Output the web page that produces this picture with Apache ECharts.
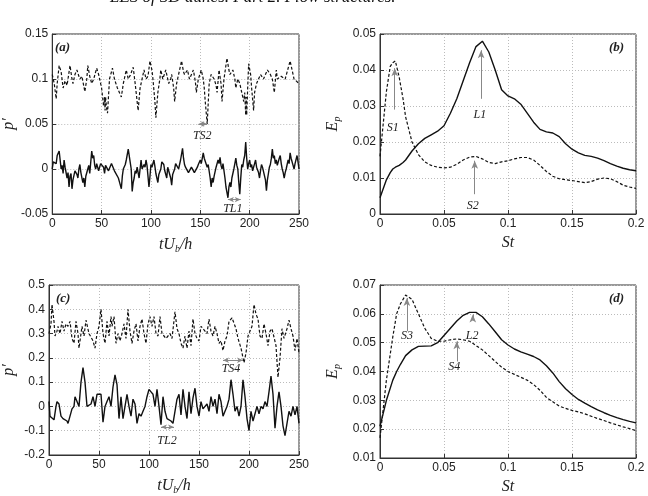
<!DOCTYPE html>
<html>
<head>
<meta charset="utf-8">
<script src="https://cdn.jsdelivr.net/npm/echarts@6/dist/echarts.min.js"></script>
<style>
  html, body { margin: 0; padding: 0; background: #fff; }
  #chart { width: 648px; height: 496px; }
</style>
</head>
<body>
<div id="chart"></div>
<script>
// (a) pressure signals, [tU_b/h, p']
const aDashed = [[0,0.105],[2,0.095],[4,0.078],[5,0.095],[7,0.115],[9,0.108],[11,0.09],[13,0.098],[15,0.093],[18,0.115],[20,0.1],[21,0.095],[23,0.105],[25,0.11],[27,0.103],[28,0.1],[30,0.103],[32,0.092],[33,0.086],[35,0.1],[36,0.115],[38,0.103],[40,0.095],[42,0.1],[45,0.112],[47,0.105],[48,0.1],[50,0.09],[51,0.08],[52,0.07],[53,0.08],[53.5,0.065],[54,0.08],[55,0.068],[56,0.062],[58,0.1],[61,0.112],[63,0.1],[66,0.09],[68,0.085],[70,0.08],[72,0.095],[75,0.11],[77,0.1],[79,0.104],[82,0.113],[84,0.095],[85,0.085],[87,0.065],[89,0.09],[91,0.1],[93,0.11],[95,0.1],[97,0.103],[99,0.12],[101,0.11],[102,0.1],[104,0.075],[105,0.057],[107,0.085],[109,0.1],[110,0.11],[112,0.1],[115,0.11],[117,0.1],[118,0.095],[120,0.1],[121,0.105],[123,0.09],[124,0.075],[126,0.095],[128,0.105],[131,0.12],[133,0.108],[134,0.105],[137,0.11],[139,0.1],[140,0.1],[143,0.11],[145,0.097],[146,0.085],[148,0.1],[151,0.11],[153,0.1],[154,0.09],[155,0.075],[157,0.05],[159,0.095],[161,0.105],[164,0.1],[166,0.093],[167,0.085],[169,0.11],[171,0.095],[172,0.075],[174,0.1],[177,0.123],[179,0.11],[180,0.105],[183,0.11],[185,0.1],[186,0.09],[188,0.1],[190,0.095],[192,0.085],[194,0.075],[195,0.085],[196,0.06],[196.5,0.08],[197,0.06],[198,0.09],[199,0.117],[201,0.105],[202,0.09],[204,0.065],[205,0.085],[207,0.095],[209,0.1],[211,0.105],[214,0.1],[216,0.105],[218,0.11],[221,0.105],[223,0.1],[224,0.1],[225,0.085],[227,0.11],[228,0.1],[230,0.1],[232,0.103],[234,0.105],[236,0.1],[238,0.1],[241,0.12],[243,0.11],[245,0.1],[247,0.1],[250,0.095]];
const aSolid = [[0,0],[1,0.008],[3,0.01],[4,0.006],[5,0.015],[7,0.02],[8,0.01],[9,0],[10,0.004],[11,-0.005],[12,0.01],[13,0.002],[15,-0.01],[16,-0.004],[17,-0.02],[18,-0.008],[19,-0.005],[20,-0.022],[21,-0.012],[22,-0.01],[23,-0.002],[24,0],[25,-0.006],[26,-0.01],[27,0],[28,0.005],[29,-0.004],[31,-0.015],[32,-0.01],[33,-0.02],[34,-0.008],[36,0],[37,0.004],[38,-0.005],[40,0.02],[41,0.012],[42,0.015],[43,0.004],[44,0],[45,0.006],[46,0.005],[47,-0.002],[48,0],[49,0.006],[50,0.005],[52,0.002],[53,-0.005],[54,0.004],[56,0.005],[57,-0.002],[59,0],[60,0.006],[62,0.005],[63,-0.002],[65,0],[67,-0.01],[68,-0.014],[70,-0.022],[71,-0.008],[72,0],[74,0.005],[75,0.01],[77,0.022],[79,0.02],[80,0],[81,-0.025],[82,-0.015],[83,-0.01],[84,-0.002],[85,-0.005],[86,0.002],[88,-0.01],[90,0.01],[91,0],[93,0.005],[94,0.002],[95,0.01],[96,0.004],[98,-0.02],[99,-0.008],[100,0.005],[101,0.002],[103,0.01],[104,0.003],[105,-0.005],[107,-0.015],[108,-0.006],[110,0],[111,0.008],[113,0.005],[114,-0.002],[116,-0.01],[117,0.002],[119,0],[120,-0.01],[121,-0.018],[122,-0.006],[124,0],[125,0.006],[127,0.005],[128,0],[130,0.01],[132,0.023],[133,0.012],[134,0.005],[135,0.002],[137,0],[138,-0.004],[140,-0.005],[141,0.002],[143,0],[144,-0.004],[146,-0.005],[147,0.002],[148,0.005],[150,0.01],[151,0.006],[153,0.018],[154,0.012],[156,0.01],[157,0.002],[158,0.005],[160,-0.01],[161,-0.02],[162,-0.01],[163,-0.015],[164,-0.008],[165,-0.01],[166,0.002],[168,0.01],[169,0.006],[170,0.013],[171,0.004],[172,0],[173,0.006],[174,0.005],[175,-0.01],[176,-0.02],[177,-0.026],[178,-0.032],[179,-0.02],[180,-0.015],[181,-0.02],[182,-0.01],[183,-0.012],[184,0],[185,0.006],[186,0.012],[187,0.004],[188,0],[189,-0.015],[190,-0.028],[191,-0.01],[192,0.005],[193,0.002],[194,0.01],[195,0.015],[196,0.03],[197,0.012],[198,0],[199,0.006],[200,0.01],[201,0.002],[202,0.005],[203,-0.002],[204,0],[205,0.006],[206,0.01],[207,0.002],[208,0],[209,-0.004],[210,-0.01],[211,-0.002],[212,0.005],[213,0.002],[215,0],[216,-0.012],[217,-0.024],[218,-0.012],[219,-0.005],[220,0.002],[221,0.005],[222,0.012],[223,0.022],[224,0.012],[225,0.015],[226,0.006],[227,0.01],[228,0.004],[229,0.005],[230,0.012],[231,0.015],[232,0.006],[233,0],[234,-0.004],[235,-0.01],[236,-0.004],[237,0],[238,0.005],[239,0.01],[240,0.006],[241,0.018],[242,0.012],[243,0.01],[244,0.004],[245,0],[246,0.006],[248,0.015],[249,0.008],[250,0]];

// (c) pressure signals, [tU_b/h, p']
const cDashed = [[0,0.3],[2,0.34],[3,0.42],[5,0.35],[6,0.29],[8,0.31],[9,0.33],[11,0.3],[13,0.35],[15,0.31],[17,0.34],[19,0.33],[21,0.35],[23,0.28],[25,0.26],[27,0.35],[29,0.3],[30,0.24],[32,0.3],[33,0.33],[35,0.29],[37,0.355],[40,0.3],[42,0.3],[44,0.27],[46,0.24],[48,0.3],[50,0.33],[52,0.4],[54,0.3],[56,0.26],[58,0.35],[60,0.29],[62,0.37],[63,0.33],[65,0.37],[67,0.26],[69,0.3],[71,0.27],[73,0.3],[75,0.34],[77,0.28],[79,0.4],[81,0.31],[83,0.26],[85,0.31],[87,0.34],[89,0.27],[91,0.33],[93,0.36],[95,0.3],[97,0.26],[99,0.34],[101,0.37],[103,0.33],[105,0.37],[107,0.3],[109,0.29],[111,0.37],[113,0.3],[115,0.29],[117,0.28],[119,0.29],[121,0.3],[123,0.28],[126,0.39],[128,0.32],[130,0.3],[132,0.26],[134,0.24],[136,0.29],[138,0.24],[140,0.31],[142,0.25],[144,0.36],[146,0.3],[148,0.28],[150,0.27],[152,0.33],[154,0.32],[156,0.31],[158,0.3],[160,0.36],[162,0.31],[164,0.29],[166,0.33],[168,0.3],[170,0.26],[172,0.27],[174,0.23],[176,0.27],[178,0.29],[180,0.35],[183,0.365],[185,0.36],[187,0.32],[189,0.28],[192,0.24],[195,0.18],[197,0.22],[199,0.29],[201,0.29],[203,0.33],[205,0.42],[207,0.38],[209,0.36],[211,0.29],[213,0.28],[215,0.34],[217,0.3],[219,0.25],[221,0.31],[223,0.32],[225,0.32],[227,0.25],[229,0.12],[231,0.2],[233,0.32],[235,0.28],[238,0.32],[240,0.355],[242,0.32],[244,0.29],[246,0.23],[248,0.28],[250,0.22]];
const cSolid = [[0,0.02],[1,-0.04],[3,-0.035],[5,-0.055],[7,0],[8,0.02],[10,0.01],[12,-0.04],[14,-0.05],[16,-0.055],[18,-0.06],[19,-0.07],[21,-0.04],[23,-0.01],[25,0],[26,0.04],[28,0.02],[30,0],[32,0.1],[34,0.16],[36,0.1],[38,0],[40,0],[42,0.01],[44,0.04],[46,0],[48,0.05],[50,0.045],[52,0.05],[54,-0.065],[56,0],[58,0.02],[60,0.04],[62,0],[64,0.08],[66,0.13],[68,0.09],[70,-0.05],[72,0.04],[74,-0.05],[76,0],[78,0.05],[80,0],[82,-0.04],[84,0.03],[86,0.01],[88,-0.07],[90,-0.03],[92,-0.04],[94,-0.02],[96,0],[98,0.04],[100,0.07],[102,0.06],[104,0.05],[106,0],[108,0.07],[110,0],[112,-0.075],[114,0.04],[116,-0.02],[118,-0.05],[120,-0.05],[122,-0.06],[124,-0.07],[126,-0.065],[128,0.03],[130,0.05],[132,-0.035],[134,0.07],[136,0],[138,-0.05],[140,0.06],[142,-0.03],[144,0.035],[146,0.075],[148,0],[150,-0.04],[152,0.02],[154,-0.01],[156,0],[158,0.01],[160,-0.02],[162,0.04],[164,0],[166,0.03],[168,-0.03],[170,0.05],[172,0.02],[174,-0.04],[176,-0.02],[178,0],[180,0.03],[182,0.11],[184,0.05],[186,-0.02],[188,0],[190,-0.04],[192,0],[194,0.11],[196,0.04],[198,-0.05],[200,-0.1],[202,-0.02],[204,-0.06],[206,-0.03],[208,0],[210,-0.03],[212,0],[214,-0.01],[216,0.02],[218,0],[220,0.06],[222,0.125],[224,0.05],[226,-0.09],[228,0],[230,0.06],[232,0],[234,-0.08],[236,-0.12],[238,-0.07],[240,-0.02],[242,-0.04],[244,0],[246,-0.035],[248,0],[250,-0.07]];

// (b) spectra, St vs E_p
const bSt = [0,0.005,0.008,0.01,0.012,0.015,0.018,0.02,0.025,0.03,0.035,0.04,0.045,0.05,0.055,0.06,0.065,0.07,0.075,0.08,0.085,0.09,0.095,0.1,0.105,0.11,0.115,0.12,0.125,0.13,0.135,0.14,0.145,0.15,0.155,0.16,0.165,0.17,0.175,0.18,0.185,0.19,0.195,0.2];
const bDashed = [0.016,0.034,0.041,0.042,0.0425,0.038,0.032,0.027,0.02,0.0165,0.0145,0.0135,0.013,0.0128,0.013,0.0138,0.015,0.0158,0.016,0.0153,0.0143,0.014,0.0145,0.0148,0.0153,0.0157,0.0157,0.015,0.0135,0.0118,0.0105,0.0098,0.0095,0.0093,0.009,0.0087,0.009,0.0097,0.01,0.0098,0.009,0.008,0.0075,0.0071];
const bSolid = [0.0045,0.0095,0.0115,0.0125,0.013,0.0135,0.0143,0.015,0.0175,0.0195,0.021,0.022,0.023,0.0245,0.028,0.032,0.037,0.042,0.0465,0.048,0.045,0.04,0.0345,0.0328,0.032,0.0305,0.028,0.0255,0.0235,0.0228,0.0225,0.0215,0.0195,0.018,0.017,0.0163,0.016,0.0155,0.0148,0.014,0.0133,0.0127,0.0123,0.012];

// (d) spectra, St vs E_p
const dSt = [0,0.005,0.01,0.013,0.016,0.02,0.025,0.03,0.035,0.04,0.045,0.05,0.055,0.06,0.065,0.07,0.075,0.08,0.085,0.09,0.095,0.1,0.105,0.11,0.115,0.12,0.125,0.13,0.135,0.14,0.145,0.15,0.155,0.16,0.165,0.17,0.175,0.18,0.185,0.19,0.195,0.2];
const dDashed = [0.017,0.037,0.052,0.06,0.0635,0.0665,0.065,0.06,0.055,0.0515,0.0505,0.0505,0.051,0.0513,0.051,0.0505,0.049,0.0475,0.0455,0.0435,0.0415,0.04,0.039,0.038,0.037,0.0355,0.0335,0.031,0.0295,0.028,0.0272,0.0265,0.026,0.0253,0.0245,0.0237,0.023,0.0222,0.0215,0.0208,0.0202,0.0195];
const dSolid = [0.021,0.03,0.037,0.04,0.0425,0.0455,0.0475,0.0487,0.0488,0.0489,0.05,0.0525,0.055,0.0575,0.0595,0.0605,0.0605,0.059,0.0565,0.0538,0.051,0.0492,0.0478,0.0468,0.046,0.0452,0.044,0.042,0.0395,0.0365,0.034,0.032,0.0303,0.029,0.0278,0.0267,0.0257,0.0248,0.024,0.0233,0.0227,0.0222];

const chart = echarts.init(document.getElementById('chart'));

const tickFont = { fontFamily: 'Liberation Sans', fontSize: 12, color: '#222' };
const serif = 'Liberation Serif';
const fmt = v => String(Number(v.toFixed(4)));

function zip(xs, ys) {
    return xs.map((x, i) => [x, ys[i]]);
}

function xAx(idx, min, max, interval, name) {
    return {
        type: 'value', gridIndex: idx, min: min, max: max, interval: interval,
        name: name, nameLocation: 'middle', nameGap: 21,
        nameTextStyle: {
            fontFamily: serif, fontStyle: 'italic', fontSize: 16, color: '#222',
            rich: {
                i: { fontFamily: serif, fontStyle: 'italic', fontSize: 16, color: '#222' },
                s: { fontFamily: serif, fontSize: 10, color: '#222', padding: [9, 0, 0, 0] }
            }
        },
        axisLine: { onZero: false, lineStyle: { color: '#333' } },
        axisTick: { inside: true, length: 4, lineStyle: { color: '#333' } },
        axisLabel: Object.assign({ margin: 4, formatter: fmt }, tickFont),
        splitLine: { lineStyle: { type: [1, 2], color: '#bbb' } }
    };
}

function yAx(idx, min, max, interval, name, gap) {
    return {
        type: 'value', gridIndex: idx, min: min, max: max, interval: interval,
        name: name, nameLocation: 'middle', nameGap: gap, nameRotate: 90,
        nameTextStyle: {
            rich: {
                i: { fontFamily: serif, fontStyle: 'italic', fontSize: 16, color: '#222' },
                s: { fontFamily: serif, fontStyle: 'italic', fontSize: 10, color: '#222', padding: [9, 0, 0, 0] }
            }
        },
        axisLine: { onZero: false, lineStyle: { color: '#333' } },
        axisTick: { inside: true, length: 4, lineStyle: { color: '#333' } },
        axisLabel: Object.assign({ margin: 4, formatter: fmt }, tickFont),
        splitLine: { lineStyle: { type: [1, 2], color: '#bbb' } }
    };
}

const labelStyle = { fontFamily: serif, fontStyle: 'italic', fontSize: 12, color: '#222' };

function notes(list) {
    return {
        symbol: 'circle', symbolSize: 0, silent: true,
        label: Object.assign({ show: true, position: 'inside', formatter: p => p.name }, labelStyle),
        data: list.map(n => ({ name: n[0], coord: [n[1], n[2]] }))
    };
}

function arrows(list, both) {
    return {
        silent: true, symbol: both ? ['arrow', 'arrow'] : ['none', 'arrow'], symbolSize: both ? [4, 6] : [5, 8],
        label: { show: false },
        lineStyle: { color: '#888', type: 'solid', width: 1 },
        data: list.map(a => [{ coord: [a[0], a[1]] }, { coord: [a[2], a[3]] }])
    };
}

function line(idx, data, dashed, extra) {
    return Object.assign({
        type: 'line', xAxisIndex: idx, yAxisIndex: idx, data: data,
        showSymbol: false, symbol: 'none', animation: false,
        lineStyle: { color: '#111', width: dashed ? 1.2 : 1.4, type: dashed ? [3, 2] : 'solid' }
    }, extra || {});
}

const grids = [
    { left: 43, top: 34, width: 256, height: 180 },
    { left: 380, top: 34, width: 256, height: 180 },
    { left: 43, top: 285, width: 256, height: 180 },
    { left: 380, top: 285, width: 256, height: 180 }
].map(g => Object.assign({ show: true, borderColor: '#333', borderWidth: 1 }, g));

const option = {
    animation: false,
    graphic: [
        { type: 'text', left: 110, top: -11, style: { text: 'LES of 3D dunes. Part 2. Flow structures.', font: 'italic 17px "Liberation Serif"', fill: '#111' } },
        { type: 'text', left: 55, top: 41, style: { text: '(a)', font: 'italic bold 13px "Liberation Serif"', fill: '#222' } },
        { type: 'text', left: 609, top: 41, style: { text: '(b)', font: 'italic bold 13px "Liberation Serif"', fill: '#222' } },
        { type: 'text', left: 56, top: 292, style: { text: '(c)', font: 'italic bold 13px "Liberation Serif"', fill: '#222' } },
        { type: 'text', left: 609, top: 292, style: { text: '(d)', font: 'italic bold 13px "Liberation Serif"', fill: '#222' } }
    ],
    grid: grids,
    xAxis: [
        xAx(0, 0, 250, 50, '{i|tU}{s|b}{i|/h}'),
        xAx(1, 0, 0.2, 0.05, '{i|St}'),
        xAx(2, 0, 250, 50, '{i|tU}{s|b}{i|/h}'),
        xAx(3, 0, 0.2, 0.05, '{i|St}')
    ],
    yAxis: [
        yAx(0, -0.05, 0.15, 0.05, "{i|p′}", 32),
        yAx(1, 0, 0.05, 0.01, '{i|E}{s|p}', 38),
        yAx(2, -0.2, 0.5, 0.1, "{i|p′}", 32),
        yAx(3, 0.01, 0.07, 0.01, '{i|E}{s|p}', 38)
    ],
    series: [
        line(0, aDashed, true, {
            markLine: arrows([[148, 0.05, 157, 0.05]], true),
            markPoint: notes([['TS2', 152, 0.037]])
        }),
        line(0, aSolid, false, {
            markLine: arrows([[178, -0.034, 191, -0.034]], true),
            markPoint: notes([['TL1', 183, -0.044]])
        }),
        line(1, zip(bSt, bDashed), true, {
            markLine: arrows([[0.0115, 0.029, 0.0115, 0.0405], [0.074, 0.0055, 0.074, 0.0148]], false),
            markPoint: notes([['S1', 0.01, 0.0238], ['S2', 0.0725, 0.0023]])
        }),
        line(1, zip(bSt, bSolid), false, {
            markLine: arrows([[0.079, 0.032, 0.079, 0.0455]], false),
            markPoint: notes([['L1', 0.078, 0.0275]])
        }),
        line(2, cDashed, true, {
            markLine: arrows([[174, 0.19, 194, 0.19]], true),
            markPoint: notes([['TS4', 182, 0.155]])
        }),
        line(2, cSolid, false, {
            markLine: arrows([[112, -0.085, 125, -0.085]], true),
            markPoint: notes([['TL2', 118, -0.14]])
        }),
        line(3, zip(dSt, dDashed), true, {
            markLine: arrows([[0.021, 0.054, 0.021, 0.0655], [0.06, 0.0435, 0.06, 0.0505]], false),
            markPoint: notes([['S3', 0.021, 0.0525], ['S4', 0.058, 0.0415]])
        }),
        line(3, zip(dSt, dSolid), false, {
            markLine: arrows([[0.0725, 0.0578, 0.0725, 0.0598]], false),
            markPoint: notes([['L2', 0.072, 0.0525]])
        })
    ]
};

chart.setOption(option);
window.addEventListener('resize', () => {
    chart.resize();
});
</script>
</body>
</html>
